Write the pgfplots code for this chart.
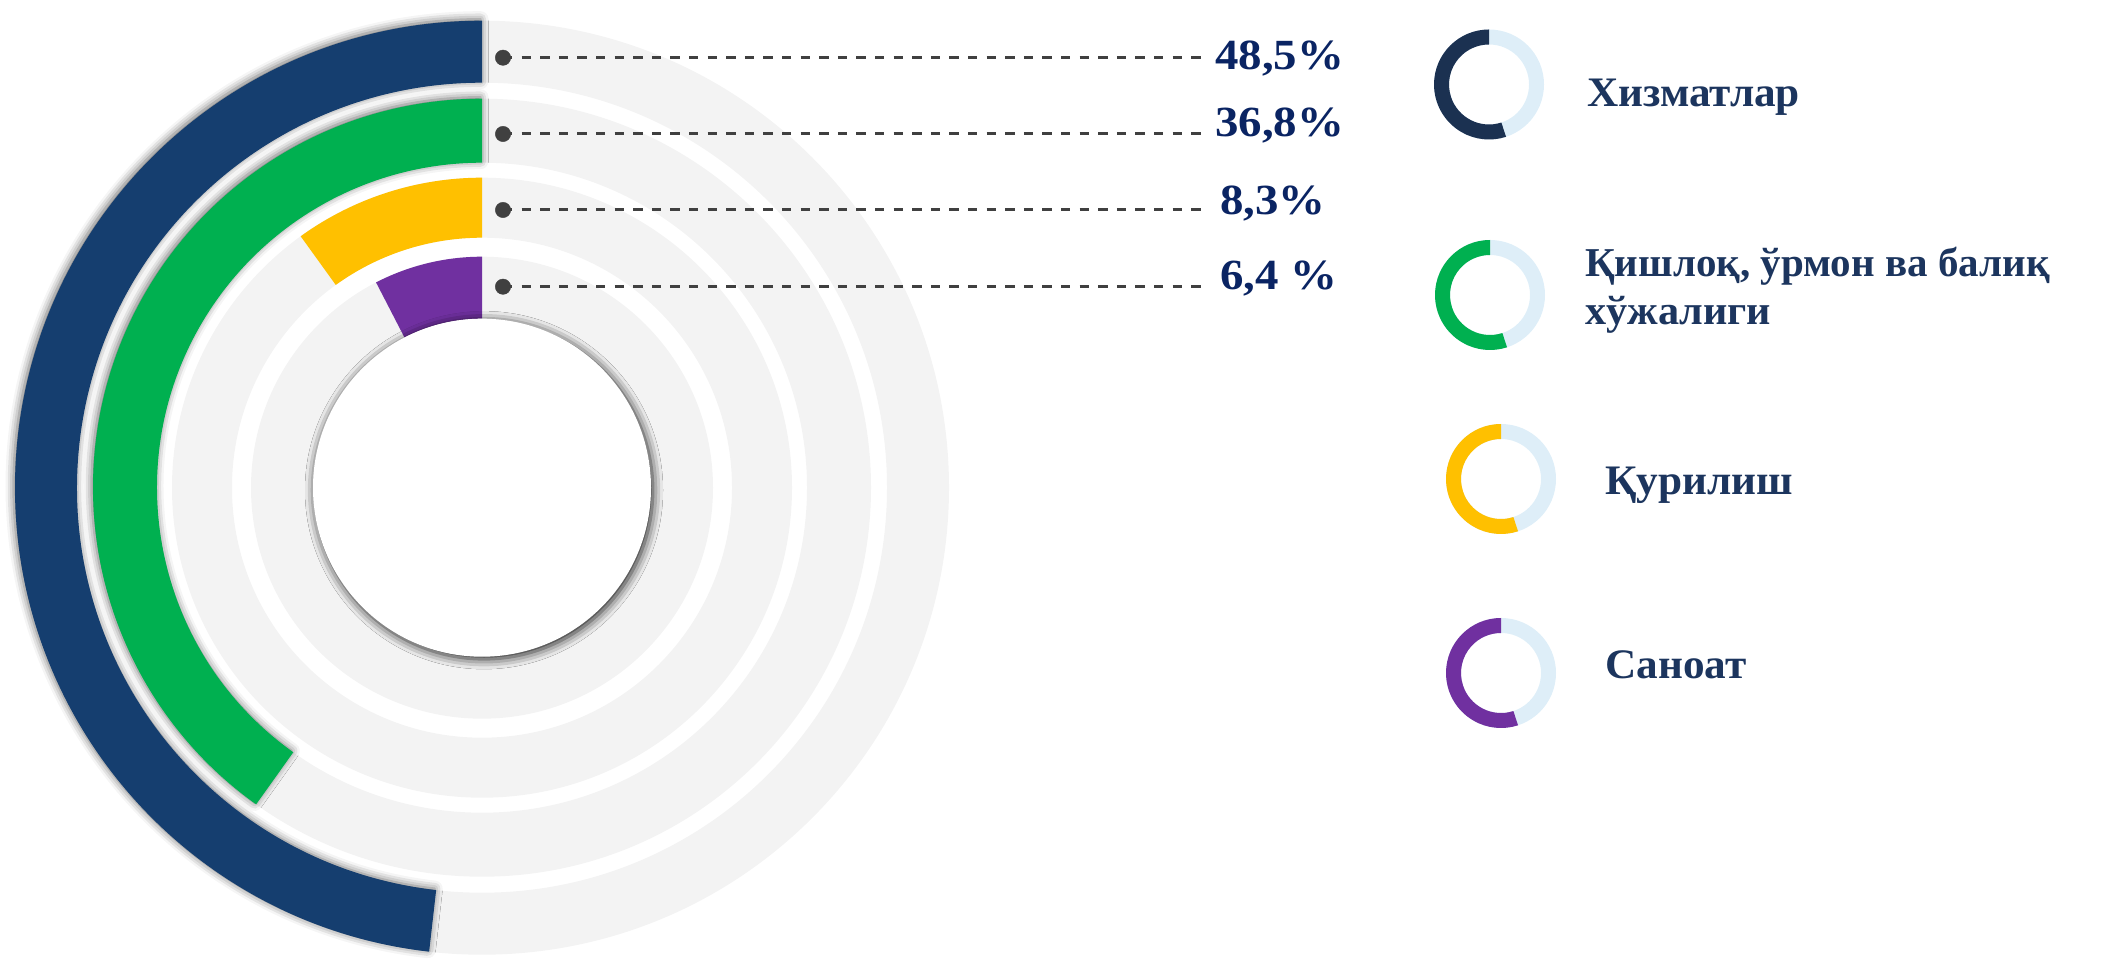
\documentclass[border=0pt]{standalone}
\usepackage{pgfplots}
\pgfplotsset{compat=1.18}
\usepackage{pgfplotstable}
\usepackage{fontspec}
\setmainfont{Liberation Serif}
\newfontfamily\pctfont{Liberation Serif}[FakeStretch=1.09]
\newfontfamily\legfont{Liberation Serif}[FakeStretch=1.03]
\usetikzlibrary{shadows.blur}

\definecolor{cBlue}{HTML}{153E6F}
\definecolor{cGreen}{HTML}{00B050}
\definecolor{cYellow}{HTML}{FFC000}
\definecolor{cPurple}{HTML}{7030A0}
\definecolor{cGray}{HTML}{F3F3F3}
\definecolor{cNavy}{HTML}{1B3151}
\definecolor{cLight}{HTML}{DEEEF8}
\definecolor{cText}{HTML}{1C355E}
\definecolor{cPct}{HTML}{0A2463}
\definecolor{cLine}{HTML}{404040}

\tikzset{
  ringshadow/.style={blur shadow={shadow xshift=-1.5pt, shadow yshift=1.5pt, shadow blur radius=8pt, shadow opacity=60}},
  noshadow/.style={}
}

% ring data: drawn span (degrees, counter-clockwise from 12 o'clock), outer/inner radius
\pgfplotstableread{
idx span  rout rin col     sh
0   173.5 467  405 cBlue   ringshadow
1   144.5 389  325 cGreen  ringshadow
2   35.8  310  250 cYellow noshadow
3   27.3  231  169 cPurple noshadow
}\ringdata

% legend icons: centre x, y and colour
\pgfplotstableread{
idx x    y     col
0   1489 875.5 cNavy
1   1490 665   cGreen
2   1501 481   cYellow
3   1501 287   cPurple
}\legdata

\begin{document}
\begin{tikzpicture}
\begin{axis}[
  x=1pt, y=1pt,
  xmin=0, xmax=2103, ymin=0, ymax=960,
  hide axis, clip=false,
]
\coordinate (c) at (axis cs:482,472.3);
\coordinate (bl) at (axis cs:0,0);
\coordinate (tr) at (axis cs:2103,960);

% grey background rings
\pgfplotsinvokeforeach{0,...,3}{
  \pgfplotstablegetelem{#1}{rout}\of\ringdata \let\ro\pgfplotsretval
  \pgfplotstablegetelem{#1}{rin}\of\ringdata \let\ri\pgfplotsretval
  \edef\temp{\noexpand\fill[cGray, even odd rule] (c) circle[radius=\ro pt] (c) circle[radius=\ri pt];}
  \temp
}
% coloured ring segments
\pgfplotsinvokeforeach{0,...,3}{
  \pgfplotstablegetelem{#1}{span}\of\ringdata \let\sp\pgfplotsretval
  \pgfplotstablegetelem{#1}{rout}\of\ringdata \let\ro\pgfplotsretval
  \pgfplotstablegetelem{#1}{rin}\of\ringdata \let\ri\pgfplotsretval
  \pgfplotstablegetelem{#1}{col}\of\ringdata \let\co\pgfplotsretval
  \pgfplotstablegetelem{#1}{sh}\of\ringdata \let\sh\pgfplotsretval
  \pgfmathsetmacro\ea{90+\sp}
  \edef\temp{\noexpand\fill[\co,\sh] ([shift={(90:\ro pt)}]c) arc[start angle=90, end angle=\ea, radius=\ro pt] -- ([shift={(\ea:\ri pt)}]c) arc[start angle=\ea, end angle=90, radius=\ri pt] -- cycle;}
  \temp
}
% centre hole with shadow
\fill[white, blur shadow={shadow xshift=2pt, shadow yshift=-2.5pt, shadow blur radius=10pt, shadow opacity=90}] (c) circle[radius=169pt];

% leader lines and dots
\addplot[cLine, line width=3pt, dash pattern=on 9.3pt off 9.3pt] coordinates {(503,902.3) (1203,902.3)};
\addplot[cLine, line width=3pt, dash pattern=on 9.3pt off 9.3pt] coordinates {(503,826) (1203,826)};
\addplot[cLine, line width=3pt, dash pattern=on 9.3pt off 9.3pt] coordinates {(503,750) (1203,750)};
\addplot[cLine, line width=3pt, dash pattern=on 9.3pt off 9.3pt] coordinates {(503,673.3) (1203,673.3)};
\addplot[only marks, mark=*, mark size=7.7pt, cLine] coordinates {(503,902.3) (503,826) (503,750) (503,673.3)};

% percentage labels
\node[anchor=base west, text=cPct, font=\fontsize{43}{48}\pctfont\bfseries, inner sep=0pt] at (axis cs:1215,890) {48,5\%};
\node[anchor=base west, text=cPct, font=\fontsize{43}{48}\pctfont\bfseries, inner sep=0pt] at (axis cs:1215,823.3) {36,8\%};
\node[anchor=base west, text=cPct, font=\fontsize{43}{48}\pctfont\bfseries, inner sep=0pt] at (axis cs:1220,745) {8,3\%};
\node[anchor=base west, text=cPct, font=\fontsize{43}{48}\pctfont\bfseries, inner sep=0pt] at (axis cs:1220,670) {6,4 \%};

% legend icons
\pgfplotsinvokeforeach{0,...,3}{
  \pgfplotstablegetelem{#1}{x}\of\legdata \let\lx\pgfplotsretval
  \pgfplotstablegetelem{#1}{y}\of\legdata \let\ly\pgfplotsretval
  \pgfplotstablegetelem{#1}{col}\of\legdata \let\co\pgfplotsretval
  \edef\temp{\noexpand\coordinate (l#1) at (axis cs:\lx,\ly);
    \noexpand\fill[cLight, even odd rule] (l#1) circle[radius=55pt] (l#1) circle[radius=40pt];
    \noexpand\fill[\co] ([shift={(90:55pt)}]l#1) arc[start angle=90, end angle=288, radius=55pt] -- ([shift={(288:40pt)}]l#1) arc[start angle=288, end angle=90, radius=40pt] -- cycle;}
  \temp
}

% legend texts
\node[anchor=base west, text=cText, font=\fontsize{42}{48}\legfont\bfseries, inner sep=0pt] at (axis cs:1587,853.3) {Хизматлар};
\node[anchor=base west, text=cText, font=\fontsize{41}{48}\selectfont\bfseries, inner sep=0pt] at (axis cs:1585,683.3) {Қишлоқ, ўрмон ва балиқ};
\node[anchor=base west, text=cText, font=\fontsize{41}{48}\legfont\bfseries, inner sep=0pt] at (axis cs:1585,635) {хўжалиги};
\node[anchor=base west, text=cText, font=\fontsize{42}{48}\legfont\bfseries, inner sep=0pt] at (axis cs:1605,465) {Қурилиш};
\node[anchor=base west, text=cText, font=\fontsize{42}{48}\legfont\bfseries, inner sep=0pt] at (axis cs:1605,281) {Саноат};
\end{axis}
\pgfresetboundingbox
\path[use as bounding box] (bl) rectangle (tr);
\end{tikzpicture}
\end{document}
